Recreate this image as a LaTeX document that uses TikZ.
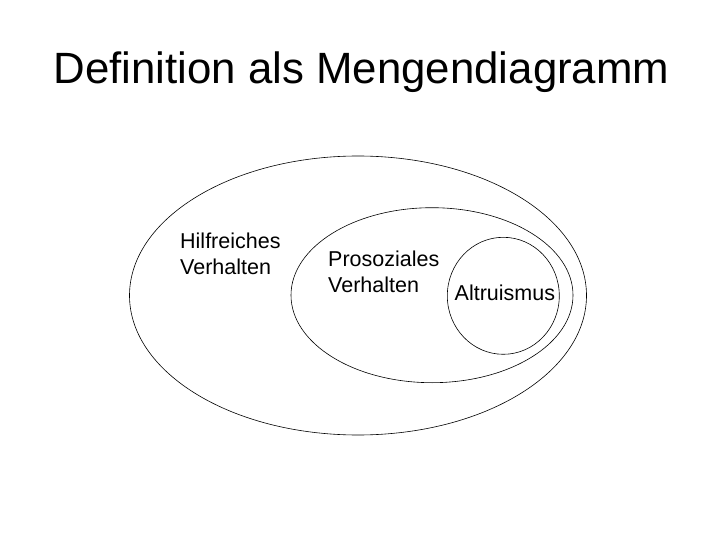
\documentclass[tikz,border=0pt]{standalone}
\usepackage{fontspec}
\setmainfont{Liberation Sans}
\begin{document}
\begin{tikzpicture}[x=1pt,y=-1pt,
  setline/.style={draw=black,line width=0.6pt},
  lbl/.style={anchor=base west,inner sep=0pt,font=\fontsize{21.5}{25.7}\selectfont}]
\useasboundingbox[fill=white] (0,0) rectangle (720,540);
\node[anchor=base,inner sep=0pt,font=\fontsize{43.8}{50}\selectfont] (title) at (361.5,83.3) {Definition als Mengendiagramm};
\draw[setline] (358,295.5) ellipse [x radius=228.5, y radius=139.5];
\draw[setline] (432,295.2) ellipse [x radius=141, y radius=87.5];
\draw[setline] (503.3,295.8) ellipse [x radius=56, y radius=58.5];
\node[lbl] (h1) at (180,248) {Hilfreiches};
\node[lbl] (h2) at (180,274.5) {Verhalten};
\node[lbl] (p1) at (328,266.7) {Prosoziales};
\node[lbl] (p2) at (328,292.3) {Verhalten};
\node[lbl] (a1) at (454.5,300) {Altruismus};
\end{tikzpicture}
\end{document}
